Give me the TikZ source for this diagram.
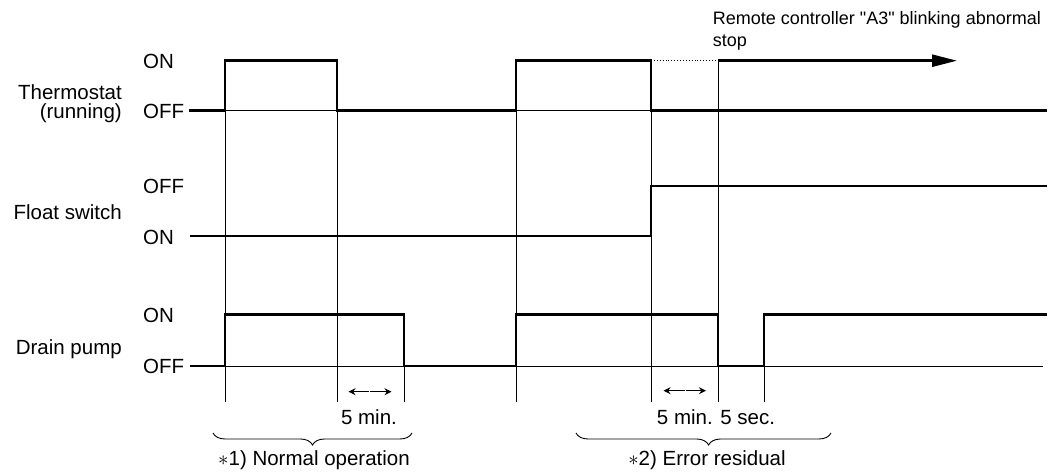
\documentclass[tikz,border=0pt]{standalone}
\usepackage{fontspec}
\setmainfont{Liberation Sans}[Ligatures=TeXOff]
\usetikzlibrary{arrows.meta,decorations.pathreplacing}
\begin{document}
\begin{tikzpicture}[x=1pt,y=-1pt,
  sig/.style={line width=2.6pt, line join=miter, line cap=butt},
  gridline/.style={line width=0.9pt},
  lbl/.style={font=\fontsize{20.5}{23}\selectfont, inner sep=0pt},
  toplbl/.style={font=\fontsize{18}{21}\selectfont, inner sep=0pt, anchor=base west},
  statelbl/.style={lbl, anchor=base west},
  namelbl/.style={lbl, anchor=base east},
  notelbl/.style={lbl, anchor=base},
  smallarrow/.style={line width=1.5pt, -{Stealth[length=7pt,width=7pt]}},
  bigarrow/.style={line width=2.6pt, -{Triangle[length=25pt,width=12pt]}},
  bracestyle/.style={line width=0.9pt, decorate},
]
\useasboundingbox (0,0) rectangle (1052,473);

% ---- labels ----
\node[namelbl] (thermo) at (122,99.3) {Thermostat};
\node[namelbl] (running) at (122,119) {(running)};
\node[namelbl] (float) at (122,220) {Float switch};
\node[namelbl] (drain) at (122,354.3) {Drain pump};

\node[statelbl] (tON) at (143,68.3) {ON};
\node[statelbl] (tOFF) at (143,118.3) {OFF};
\node[statelbl] (fOFF) at (143,193.3) {OFF};
\node[statelbl] (fON) at (143,244) {ON};
\node[statelbl] (dON) at (143,322) {ON};
\node[statelbl] (dOFF) at (143,373.3) {OFF};

\node[toplbl] (remote1) at (712.7,25) {Remote controller "A3" blinking abnormal};
\node[toplbl] (remote2) at (712.7,46.7) {stop};

\node[notelbl] (min1) at (369,424) {5 min.};
\node[notelbl] (min2) at (716,424) {5 min. 5 sec.};
\node[notelbl] (note1) at (314,465) {$\ast$1) Normal operation};
\node[notelbl] (note2) at (707,465) {$\ast$2) Error residual};

% ---- key coordinates ----
\coordinate (tS) at (189,110.7);
\coordinate (fS) at (190,236);
\coordinate (dS) at (190,366);

% ---- thin vertical timing lines ----
\draw[gridline] (225,60.7) -- (225,402);
\draw[gridline] (337,110.7) -- (337,402);
\draw[gridline] (404,366) -- (404,402);
\draw[gridline] (516,110.7) -- (516,402);
\draw[gridline] (651,110.7) -- (651,402);
\draw[gridline] (718,60.7) -- (718,402);
\draw[gridline] (764,366) -- (764,402);

% ---- thin baselines inside pulses ----
\draw[gridline] (225,110.7) -- (337,110.7);
\draw[gridline] (516,110.7) -- (651,110.7);
\draw[gridline] (225,366) -- (404,366);
\draw[gridline] (516,366) -- (718,366);
\draw[gridline] (764,366) -- (1043,366);

% ---- thermostat ----
\draw[sig] (tS) -- (225,110.7) -- (225,60.7) -- (337,60.7) -- (337,110.7)
  -- (516,110.7) -- (516,60.7) -- (651,60.7) -- (651,110.7) -- (1047,110.7);
\draw[line width=0.9pt, dotted] (651,60.7) -- (718,60.7);
\coordinate (arrS) at (718,60.7);
\coordinate (arrE) at (957,60.7);
\draw[bigarrow] (arrS) -- (arrE);

% ---- float switch ----
\draw[sig] (fS) -- (651,236) -- (651,186) -- (1047,186);

% ---- drain pump ----
\draw[sig] (dS) -- (225,366) -- (225,314.5) -- (404,314.5) -- (404,366)
  -- (516,366) -- (516,314.5) -- (718,314.5) -- (718,366) -- (764,366)
  -- (764,314.5) -- (1047,314.5);

% ---- 5 min arrows ----
\draw[smallarrow] (369,391.7) -- (348.5,391.7);
\draw[smallarrow] (370,391.7) -- (391.5,391.7);
\draw[smallarrow] (684.5,390.7) -- (663.5,390.7);
\draw[smallarrow] (685.5,390.7) -- (706,390.7);

% ---- braces ----
\draw[bracestyle, decoration={brace, mirror, amplitude=12pt}] (213,433) -- (412,433);
\draw[bracestyle, decoration={brace, mirror, amplitude=12pt, aspect=0.52}] (576,433) -- (831,433);
\end{tikzpicture}
\end{document}
